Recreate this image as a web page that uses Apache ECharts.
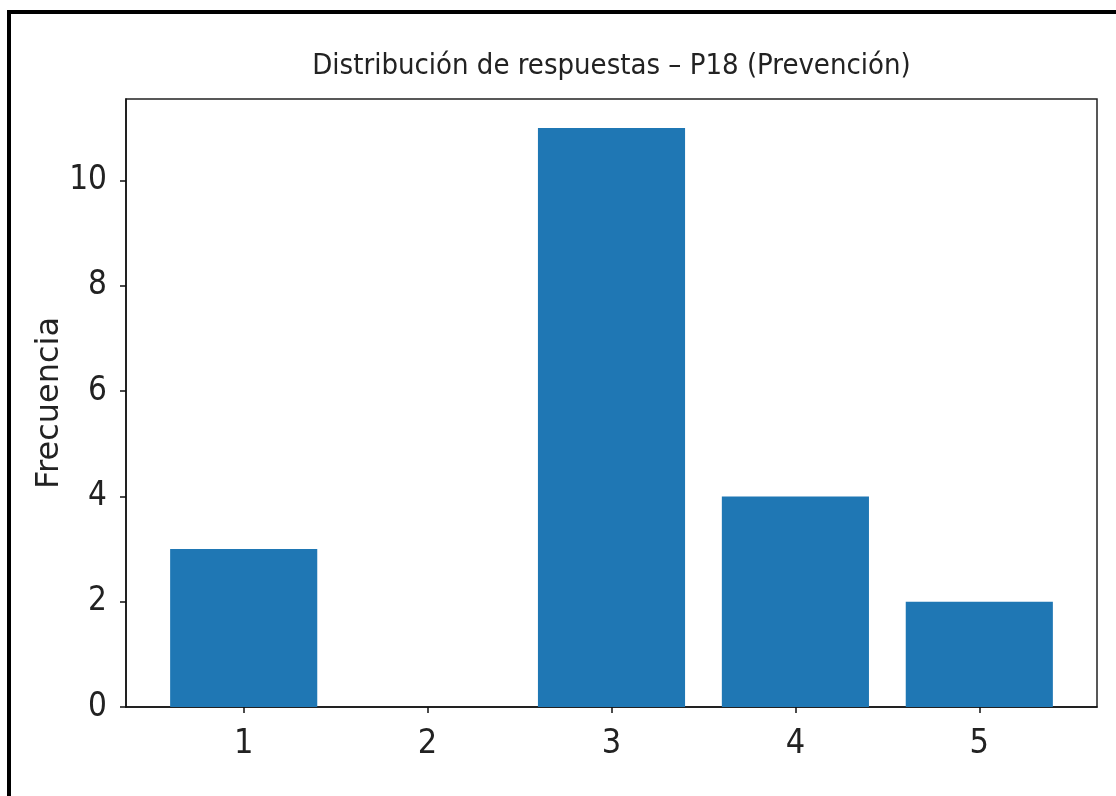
<!DOCTYPE html>
<html>
<head>
<meta charset="utf-8">
<script src="https://cdn.jsdelivr.net/npm/echarts@6/dist/echarts.min.js"></script>
<style>
html,body{margin:0;padding:0;background:#fff;}
#chart{width:1116px;height:796px;}
</style>
</head>
<body>
<div id="chart"></div>
<script>
const categories = [1, 2, 3, 4, 5];
const frequencies = [3, 0, 11, 4, 2];
const yTicks = [0, 2, 4, 6, 8, 10];
const titleText = 'Distribución de respuestas – P18 (Prevención)';
const yName = 'Frecuencia';

const narrow = "'Liberation Sans Narrow', 'DejaVu Sans Condensed', 'Liberation Sans', sans-serif";
const W = 1116, H = 796;
const grid = {left: 126, right: 19, top: 99, bottom: 89};
const xMin = 0.36, xMax = 5.64;
const plotW = W - grid.left - grid.right;
const barW = 0.8 * plotW / (xMax - xMin);

const chart = echarts.init(document.getElementById('chart'), null, {renderer: 'canvas'});
chart.setOption({
  animation: false,
  backgroundColor: '#fff',
  title: {
    text: titleText,
    left: grid.left + plotW / 2,
    textAlign: 'center',
    top: 52,
    padding: 0,
    textStyle: {fontFamily: narrow, fontSize: 29, fontWeight: 'normal', color: '#222'}
  },
  grid: Object.assign({show: true, borderColor: '#222', borderWidth: 1.5, backgroundColor: 'transparent', containLabel: false}, grid),
  xAxis: {
    type: 'value',
    min: xMin,
    max: xMax,
    splitLine: {show: false},
    axisLine: {show: true, onZero: false, lineStyle: {color: '#111', width: 1.5}},
    axisTick: {show: true, length: 6, customValues: categories, lineStyle: {color: '#111', width: 1.5}},
    axisLabel: {customValues: categories, margin: 20, fontFamily: narrow, fontSize: 34, color: '#222'}
  },
  yAxis: {
    type: 'value',
    min: 0,
    max: 11.55,
    name: yName,
    nameLocation: 'middle',
    nameGap: 60,
    nameRotate: 90,
    nameMoveOverlap: false,
    nameTextStyle: {fontFamily: "'DejaVu Sans', sans-serif", fontSize: 32, color: '#222'},
    splitLine: {show: false},
    axisLine: {show: true, lineStyle: {color: '#111', width: 1.5}},
    axisTick: {show: true, length: 6, customValues: yTicks, lineStyle: {color: '#111', width: 1.5}},
    axisLabel: {customValues: yTicks, margin: 19, fontFamily: narrow, fontSize: 33, color: '#222'}
  },
  series: [{
    type: 'bar',
    data: categories.map((c, i) => [c, frequencies[i]]),
    barWidth: barW,
    itemStyle: {color: '#1f77b4'}
  }],
  graphic: [{
    type: 'rect',
    shape: {x: 9, y: 12, width: 3000, height: 3000},
    style: {fill: 'none', stroke: '#000', lineWidth: 4},
    silent: true,
    z: 100
  }]
});
</script>
</body>
</html>
